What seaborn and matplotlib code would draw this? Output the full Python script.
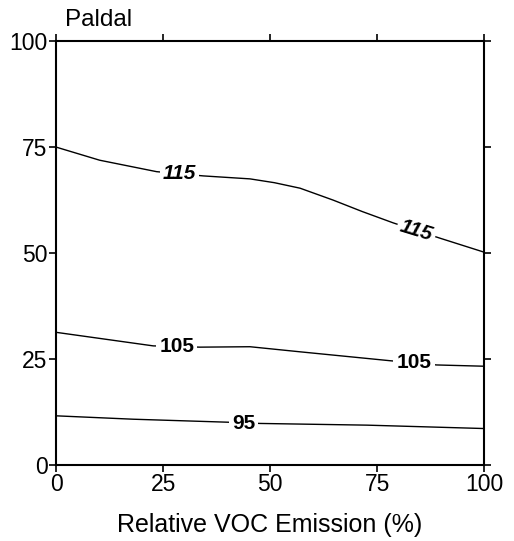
import numpy as np
import pandas as pd
import matplotlib
matplotlib.use("Agg")
import matplotlib.pyplot as plt
import seaborn as sns

# Isopleth traces (x = relative VOC emission %, y = relative NOx emission %)
x_115 = [0, 10.2, 23.5, 34.4, 45.3, 51.0, 57.0, 64.7, 71.5, 78.8, 89.7, 100]
y_115 = [75.0, 71.9, 69.2, 68.2, 67.5, 66.6, 65.3, 62.5, 59.8, 57.1, 53.5, 50.2]
x_105 = [0, 22.7, 33.6, 45.3, 57.0, 78.0, 88.9, 100]
y_105 = [31.3, 28.1, 27.8, 27.9, 26.7, 24.6, 23.6, 23.3]
x_95 = [0, 18.0, 39.9, 47.7, 72.6, 100]
y_95 = [11.6, 10.8, 10.1, 9.8, 9.4, 8.6]

# Contour labels: text, x, y, rotation
label_text = ["115", "115", "105", "105", "95"]
label_x = [28.8, 84.2, 28.2, 83.6, 43.8]
label_y = [68.7, 55.4, 27.9, 24.1, 9.9]
label_rot = [0, -17, 0, 0, 0]

ticks = [0, 25, 50, 75, 100]

frames = []
for lvl, xs, ys in [("115", x_115, y_115), ("105", x_105, y_105), ("95", x_95, y_95)]:
    frames.append(pd.DataFrame({"voc": xs, "nox": ys, "level": lvl}))
df = pd.concat(frames, ignore_index=True)

sns.set_style("white")
plt.rcParams["font.family"] = ["Liberation Sans", "DejaVu Sans"]
plt.rcParams["text.color"] = "black"
plt.rcParams["axes.labelcolor"] = "black"

fig = plt.figure(figsize=(5.14, 5.41), dpi=100)
ax = fig.add_axes([0.109, 0.1405, 0.833, 0.7835])

sns.lineplot(data=df, x="voc", y="nox", hue="level", units="level", estimator=None,
             palette=["black"] * 3, legend=False, linewidth=1.0, sort=False, ax=ax)

for t, lx, ly, r in zip(label_text, label_x, label_y, label_rot):
    style = "italic" if t == "115" else "normal"
    ax.text(lx, ly, t, ha="center", va="center", rotation=r, fontsize=15,
            fontweight="bold", fontstyle=style, color="black",
            bbox=dict(boxstyle="square,pad=0.15", fc="white", ec="none"), zorder=5)

ax.set_xlim(0, 100)
ax.set_ylim(0, 100)
ax.set_xticks(ticks)
ax.set_yticks(ticks)
ax.tick_params(axis="both", which="both", direction="out", length=5, width=1.2,
               labelsize=16.5, colors="black", pad=1,
               top=True, right=True, bottom=True, left=True,
               labeltop=False, labelright=False)
for s in ax.spines.values():
    s.set_visible(True)
    s.set_color("black")
    s.set_linewidth(1.5)

ax.set_xlabel("Relative VOC Emission (%)", fontsize=18, labelpad=12, color="black")
ax.set_ylabel("")
ax.text(0.02, 1.025, "Paldal", transform=ax.transAxes, fontsize=17.5, ha="left",
        va="bottom", color="black")

fig.savefig("out.png", dpi=100)
